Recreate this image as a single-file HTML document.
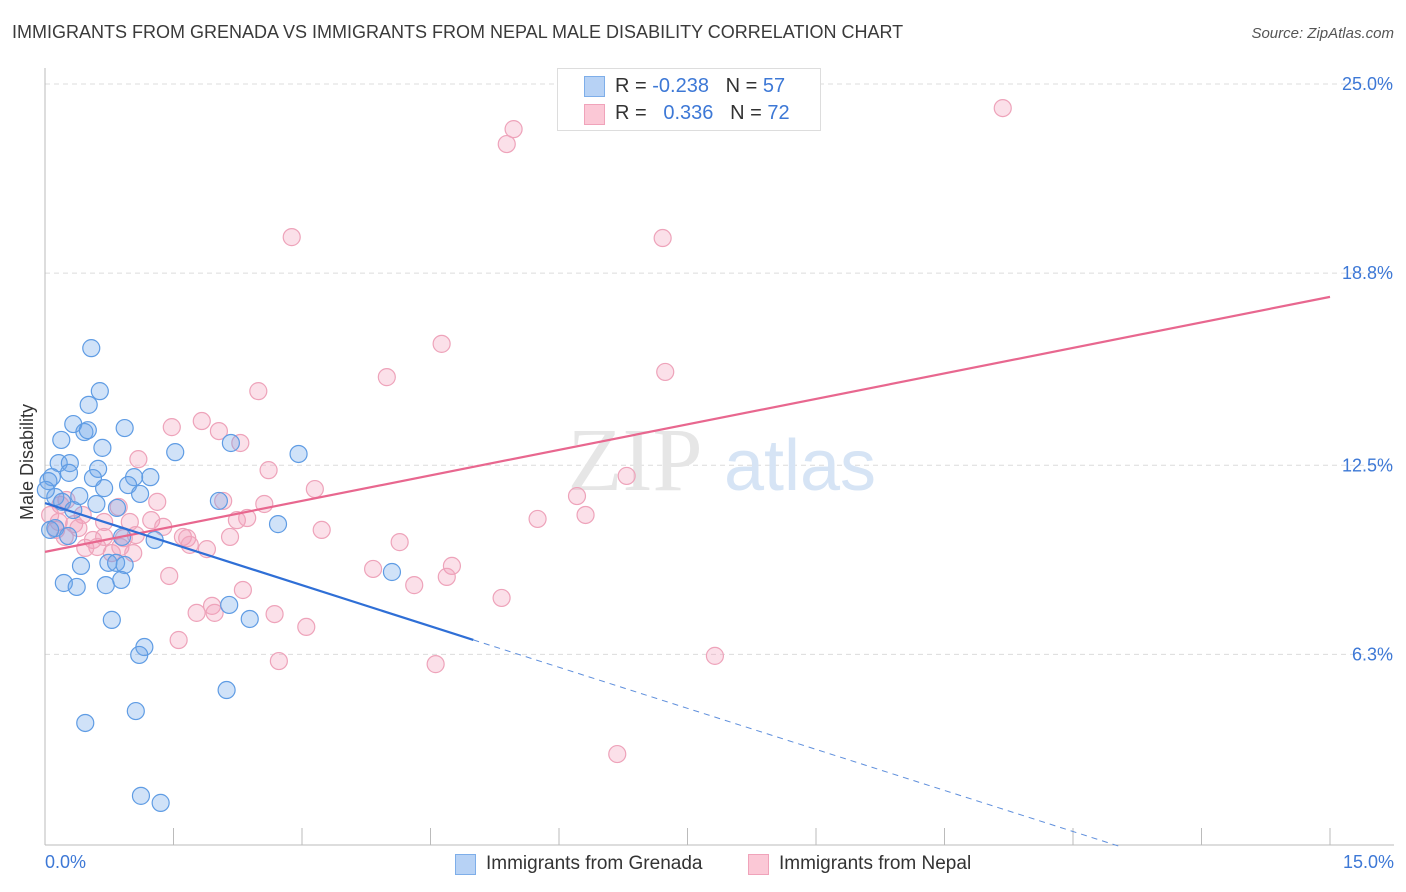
<!DOCTYPE html>
<html><head><meta charset="utf-8">
<style>
body{margin:0;background:#fff;font-family:"Liberation Sans",sans-serif;}
#wrap{position:relative;width:1406px;height:892px;overflow:hidden;}
.t{position:absolute;white-space:nowrap;}
</style></head><body>
<div id="wrap">
<div class="t" style="left:12px;top:22px;font-size:18px;color:#3a3a3a;">IMMIGRANTS FROM GRENADA VS IMMIGRANTS FROM NEPAL MALE DISABILITY CORRELATION CHART</div>
<div class="t" style="right:12px;top:25px;font-size:15px;color:#555;font-style:italic;">Source: ZipAtlas.com</div>
<svg id="chart" width="1406" height="892" style="position:absolute;left:0;top:0"></svg>
</div>
<script>
const xTicksPct=[0,1.5,3,4.5,6,7.5,9,10.5,12,13.5,15];
const yTickVals=[25.0,18.8,12.5,6.3];
const yTickLabels=["25.0%","18.8%","12.5%","6.3%"];
const grenadaX=[0.54,0.64,0.51,0.33,0.46,0.93,0.19,0.67,1.52,2.17,2.96,0.16,0.29,0.62,0.56,1.04,1.23,0.28,0.08,0.04,0.69,0.97,0.40,1.11,0.12,0.20,0.60,2.03,0.84,0.33,0.12,0.27,0.90,1.28,2.72,0.42,0.74,0.83,0.93,4.05,0.22,0.37,0.71,0.89,0.78,2.15,2.39,1.16,1.10,2.12,1.06,0.47,1.12,1.35,0.01,0.06,0.50];
const grenadaY=[16.34,14.93,14.48,13.85,13.59,13.72,13.33,13.07,12.93,13.23,12.87,12.57,12.57,12.38,12.08,12.11,12.11,12.25,12.11,11.98,11.75,11.85,11.49,11.56,11.46,11.30,11.23,11.33,11.10,11.03,10.44,10.18,10.15,10.05,10.57,9.20,9.30,9.30,9.23,9.00,8.64,8.51,8.57,8.74,7.43,7.92,7.46,6.54,6.28,5.13,4.44,4.05,1.66,1.43,11.69,10.38,13.65];
const nepalX=[11.18,5.47,5.39,2.88,7.21,4.63,3.99,7.24,2.49,1.48,1.83,2.03,2.28,1.09,2.61,6.79,3.15,6.21,2.08,2.56,1.31,0.86,6.31,5.75,2.24,2.36,0.99,1.24,1.38,0.34,0.13,0.39,0.69,1.61,1.66,0.92,0.56,2.16,3.23,0.61,0.78,1.03,1.69,1.89,0.23,4.14,3.83,4.75,4.69,1.45,4.31,2.31,5.33,1.95,1.77,1.98,2.68,3.05,1.56,2.73,4.56,7.82,6.68,0.18,0.06,0.44,0.25,0.69,0.47,1.06,0.88,0.16];
const nepalY=[24.21,23.52,23.03,19.98,19.95,16.48,15.39,15.56,14.93,13.75,13.95,13.62,13.23,12.70,12.34,12.15,11.72,11.49,11.33,11.23,11.30,11.13,10.87,10.74,10.70,10.77,10.64,10.70,10.48,10.57,10.38,10.44,10.64,10.15,10.11,10.11,10.05,10.15,10.38,9.82,9.62,9.62,9.89,9.75,10.15,9.98,9.10,9.20,8.84,8.87,8.57,8.41,8.15,7.89,7.66,7.66,7.62,7.20,6.77,6.08,5.98,6.25,3.03,11.20,10.87,10.87,11.36,10.15,9.79,10.21,9.82,10.64];
const grenadaTrend=[11.26,-2.2]; // y at x=0 and x=15
const grenadaSolidEnd=5.0;
const nepalTrend=[9.66,18.02];

const X0=45,X1=1330,YTOP=84,PXPER=30.5;
function sx(v){return X0+v/15*(X1-X0);}
function sy(v){return YTOP+(25-v)*PXPER;}
const svg=document.getElementById('chart');
const NS='http://www.w3.org/2000/svg';
function mk(tag,attrs,parent){const e=document.createElementNS(NS,tag);for(const k in attrs)e.setAttribute(k,attrs[k]);(parent||svg).appendChild(e);return e;}

// gridlines
yTickVals.forEach((v,i)=>{
 const g=mk('line',{x1:45,x2:1394,y1:sy(v),y2:sy(v),stroke:'#dcdcdc','stroke-dasharray':'5,4','stroke-width':1});
 
 
 const t=mk('text',{x:1393,y:sy(v)+6,'text-anchor':'end','font-size':18,fill:'#3d78d6','font-family':'Liberation Sans, sans-serif'});
 t.textContent=yTickLabels[i];
 
 
});
// axes
const ya=mk('line',{x1:45,x2:45,y1:68,y2:845,stroke:'#bbb','stroke-width':1});


const xa=mk('line',{x1:45,x2:1394,y1:845,y2:845,stroke:'#bbb','stroke-width':1});


xTicksPct.forEach(v=>{
 if(v===0)return;
 const tk=mk('line',{x1:sx(v),x2:sx(v),y1:828,y2:845,stroke:'#bbb','stroke-width':1});
 
 
});
// watermark
const wm=mk('text',{x:635,y:490,'text-anchor':'middle','font-size':90,fill:'#e6e6e6','font-family':'Liberation Serif, serif'});
wm.textContent='ZIP';


const wm2=mk('text',{x:800,y:490,'text-anchor':'middle','font-size':72,fill:'#d6e4f5','font-family':'Liberation Sans, sans-serif'});
wm2.textContent='atlas';



// points
function dots(xs,ys,fill,stroke,name){
 xs.forEach((x,i)=>{
  const c=mk('circle',{cx:sx(x),cy:sy(ys[i]),r:8.5,fill:fill,stroke:stroke,'stroke-width':1.2});
  
  
 });
}
dots(nepalX,nepalY,'rgba(244,160,188,0.32)','#eea3ba','nepal-point');
dots(grenadaX,grenadaY,'rgba(110,165,232,0.32)','#5f9ce4','grenada-point');

// trend lines
const nl=mk('line',{x1:sx(0),y1:sy(nepalTrend[0]),x2:sx(15),y2:sy(nepalTrend[1]),stroke:'#e8678f','stroke-width':2.2});


const slope=(grenadaTrend[1]-grenadaTrend[0])/15;
const ye=grenadaTrend[0]+slope*grenadaSolidEnd;
const gl=mk('line',{x1:sx(0),y1:sy(grenadaTrend[0]),x2:sx(grenadaSolidEnd),y2:sy(ye),stroke:'#2f6fd6','stroke-width':2.2});


const xEnd=(0-grenadaTrend[0])/slope;
const gd=mk('line',{x1:sx(grenadaSolidEnd),y1:sy(ye),x2:sx(xEnd),y2:sy(0),stroke:'#5f8fdc','stroke-width':1,'stroke-dasharray':'6,5'});


</script>
<div class="t" style="left:17px;top:520px;font-size:18px;color:#333;transform:rotate(-90deg);transform-origin:0 0;">Male Disability</div>
<div class="t" style="left:45px;top:852px;font-size:18px;color:#3d78d6;">0.0%</div>
<div class="t" style="right:12px;top:852px;font-size:18px;color:#3d78d6;">15.0%</div>

<div style="position:absolute;left:557px;top:68px;width:262px;height:61px;background:#fff;border:1px solid #ddd;font-size:20px;">
 <div style="position:absolute;left:26px;top:7px;width:19px;height:19px;background:#b7d2f5;border:1px solid #7eaee9;"></div>
 <div class="t" style="left:57px;top:6px;color:#333;">R = <span style="color:#3d78d6">-0.238</span>&nbsp;&nbsp;&nbsp;N = <span style="color:#3d78d6">57</span></div>
 <div style="position:absolute;left:26px;top:35px;width:19px;height:19px;background:#fbc8d6;border:1px solid #f0a3ba;"></div>
 <div class="t" style="left:57px;top:33px;color:#333;">R = &nbsp;&nbsp;<span style="color:#3d78d6">0.336</span>&nbsp;&nbsp;&nbsp;N = <span style="color:#3d78d6">72</span></div>
</div>

<div style="position:absolute;left:455px;top:854px;width:19px;height:19px;background:#b7d2f5;border:1px solid #7eaee9;"></div>
<div class="t" style="left:486px;top:853px;font-size:19px;color:#333;">Immigrants from Grenada</div>
<div style="position:absolute;left:748px;top:854px;width:19px;height:19px;background:#fbc8d6;border:1px solid #f0a3ba;"></div>
<div class="t" style="left:779px;top:853px;font-size:19px;color:#333;">Immigrants from Nepal</div>
</body></html>
